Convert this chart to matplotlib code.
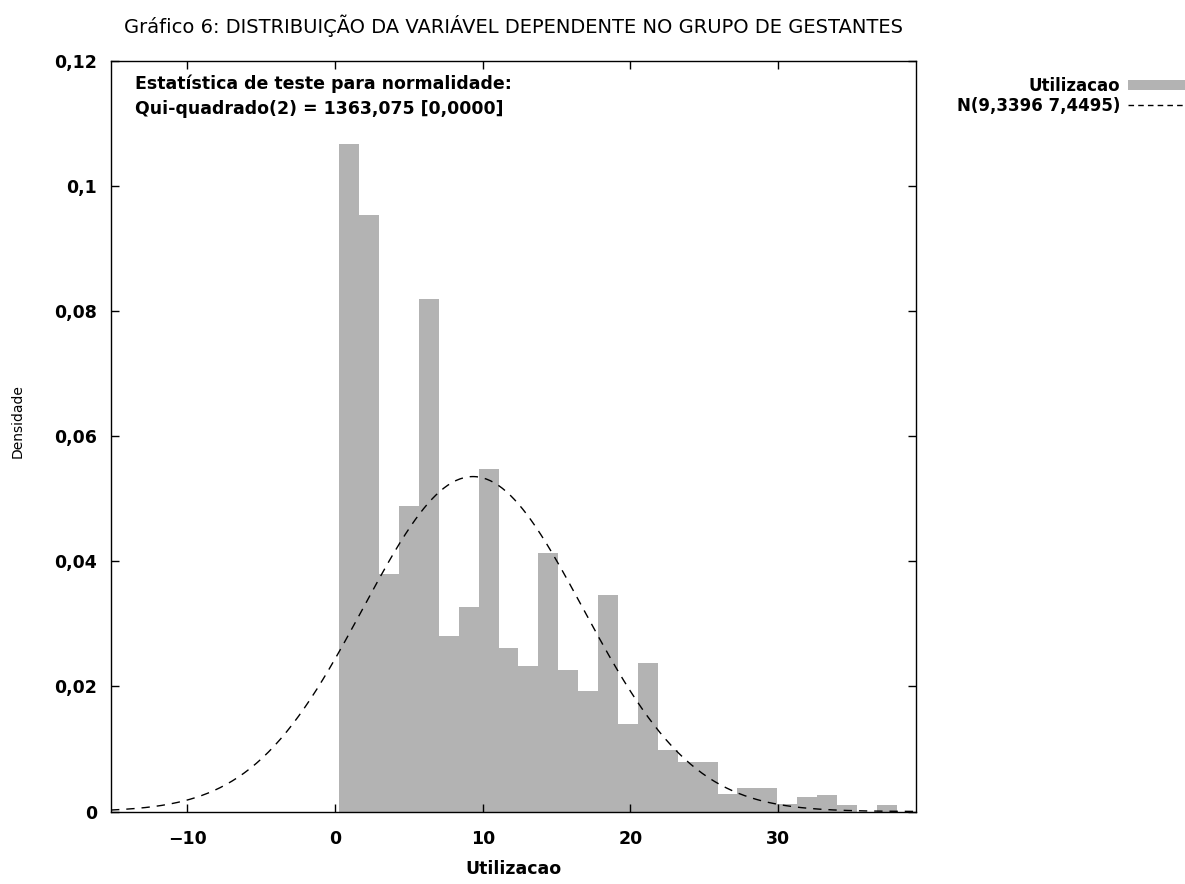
import numpy as np
import matplotlib
matplotlib.use("Agg")
import matplotlib.pyplot as plt
from matplotlib.ticker import FuncFormatter
from matplotlib.patches import Patch
from matplotlib.lines import Line2D

# histogram (density per bin)
bin_start = 0.29
bin_width = 1.348
densities = [0.1068, 0.0953, 0.0380, 0.0488, 0.0819, 0.0281, 0.0327,
             0.0548, 0.0261, 0.0233, 0.0413, 0.0227, 0.0193, 0.0346,
             0.0140, 0.0237, 0.0098, 0.0079, 0.0079, 0.0028, 0.0037,
             0.0037, 0.0012, 0.0024, 0.0027, 0.0010, 0.0, 0.0010]

mu = 9.3396
sigma = 7.4495
chi2_stat = "1363,075"
p_value = "[0,0000]"

x_ticks = [-10, 0, 10, 20, 30]
y_ticks = [0, 0.02, 0.04, 0.06, 0.08, 0.1, 0.12]
x_range = (-15.17, 39.34)

plt.rcParams["font.family"] = ["DejaVu Sans"]

fig = plt.figure(figsize=(11.85, 8.84), dpi=100)
ax = fig.add_axes([0.0937, 0.082, 0.6793, 0.849])

edges = bin_start + bin_width * np.arange(len(densities) + 1)
ax.bar(edges[:-1], densities, width=bin_width, align="edge",
       color="#b3b3b3", linewidth=0, zorder=1)

xs = np.linspace(x_range[0], x_range[1], 400)
pdf = np.exp(-0.5 * ((xs - mu) / sigma) ** 2) / (sigma * np.sqrt(2 * np.pi))
ax.plot(xs, pdf, color="black", linestyle=(0, (6, 5)), linewidth=1, zorder=3)

ax.set_xlim(*x_range)
ax.set_ylim(0, 0.12)
ax.set_xticks(x_ticks)
ax.set_yticks(y_ticks)


def comma_fmt(v, pos):
    if abs(v) < 1e-12:
        return "0"
    s = ("%.2f" % v).rstrip("0").rstrip(".")
    return s.replace(".", ",")


ax.yaxis.set_major_formatter(FuncFormatter(comma_fmt))
ax.xaxis.set_major_formatter(FuncFormatter(lambda v, p: ("%d" % v).replace("-", "\u2212")))
ax.tick_params(direction="in", length=6, width=1, top=True, right=True,
               labelsize=12.5)
ax.tick_params(axis="x", pad=13)
ax.tick_params(axis="y", pad=10)
for lab in ax.get_xticklabels() + ax.get_yticklabels():
    lab.set_fontweight("bold")
for sp in ax.spines.values():
    sp.set_linewidth(1)
    sp.set_color("black")

ax.set_title("Gráfico 6: DISTRIBUIÇÃO DA VARIÁVEL DEPENDENTE NO GRUPO DE GESTANTES",
             fontsize=14, pad=20)
ax.set_xlabel("Utilizacao", fontsize=12.5, fontweight="bold", labelpad=9)
ax.set_ylabel("Densidade", fontsize=10)
ax.yaxis.set_label_coords(-0.107, 0.52)

ax.text(0.03, 0.982, "Estatística de teste para normalidade:",
        transform=ax.transAxes, fontsize=12.5, fontweight="bold", va="top")
ax.text(0.03, 0.948, "Qui-quadrado(2) = %s %s" % (chi2_stat, p_value),
        transform=ax.transAxes, fontsize=12.5, fontweight="bold", va="top")

handles = [Patch(facecolor="#b3b3b3", edgecolor="none"),
           Line2D([0], [0], color="black", linestyle=(0, (4, 3)), linewidth=1)]
leg = fig.legend(handles, ["Utilizacao", "N(9,3396 7,4495)"],
                 loc="upper right", bbox_to_anchor=(1.0, 0.913),
                 markerfirst=False, frameon=False, fontsize=12,
                 handlelength=3.4, handleheight=0.6, handletextpad=0.5,
                 borderpad=0, borderaxespad=0, labelspacing=0.1)
for t in leg.get_texts():
    t.set_fontweight("bold")

fig.savefig("out.png", dpi=100)
